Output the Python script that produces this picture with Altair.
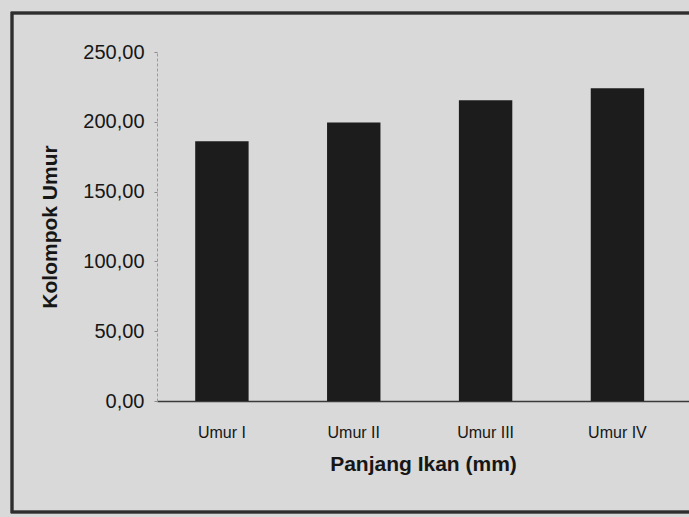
import altair as alt
import pandas as pd

# Mean fish length per age group
kelompok = ["Umur I", "Umur II", "Umur III", "Umur IV"]
panjang = [186.0, 199.5, 215.5, 224.0]

y_ticks = [0, 50, 100, 150, 200, 250]

df = pd.DataFrame({"kelompok": kelompok, "panjang": panjang})

FONT = "Liberation Sans"
INK = "#161616"

bars = alt.Chart(df).mark_bar(color="#1c1c1c").encode(
    x=alt.X(
        "kelompok:N",
        sort=kelompok,
        scale=alt.Scale(paddingInner=0.595, paddingOuter=0.315, align=0.46),
        axis=alt.Axis(
            title="Panjang Ikan (mm)",
            titleFont=FONT,
            titleFontSize=21,
            titleFontWeight="bold",
            titleColor=INK,
            titlePadding=13,
            labelAngle=0,
            labelFont=FONT,
            labelFontSize=16,
            labelColor=INK,
            labelPadding=23,
            ticks=False,
            domainColor="#3a3a3a",
            domainWidth=1.5,
        ),
    ),
    y=alt.Y(
        "panjang:Q",
        scale=alt.Scale(domain=[0, 250], nice=False),
        axis=alt.Axis(
            title="Kolompok Umur",
            titleFont=FONT,
            titleFontSize=21,
            titleFontWeight="bold",
            titleColor=INK,
            titlePadding=22,
            values=y_ticks,
            labelExpr="replace(format(datum.value, '.2f'), '.', ',')",
            labelFont=FONT,
            labelFontSize=20,
            labelColor=INK,
            labelPadding=10,
            tickSize=3,
            tickColor="#8a8a8a",
            domainColor="#9a9a9a",
            domainDash=[3, 2],
            grid=False,
        ),
    ),
)

# Border around the whole figure
frame = alt.Chart(df).mark_rect(
    fill=None, stroke="#2e2e2e", strokeWidth=2.5
).encode(
    x=alt.value(-145),
    x2=alt.value(545),
    y=alt.value(-39),
    y2=alt.value(112 + 348),
)

chart = (
    alt.layer(frame, bars)
    .properties(
        width=532,
        height=349,
        autosize=alt.AutoSizeParams(type="none"),
        padding={"left": 157, "top": 52, "right": 0, "bottom": 116},
        background="#d8d9d8",
    )
    .configure_view(stroke=None)
)

chart.save("out.html", embed_options={"renderer": "svg", "actions": False})
